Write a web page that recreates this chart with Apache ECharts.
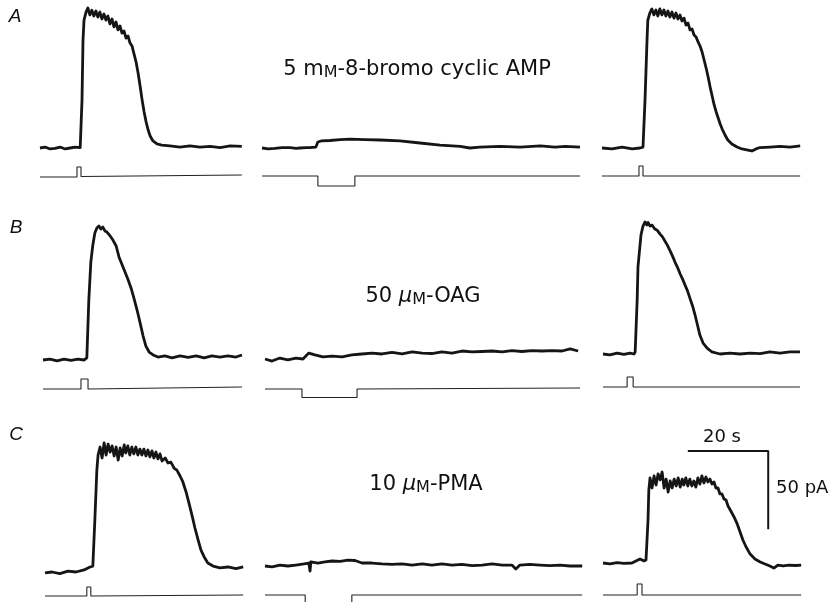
<!DOCTYPE html>
<html>
<head>
<meta charset="utf-8">
<script src="https://cdn.jsdelivr.net/npm/echarts/dist/echarts.min.js"></script>
<style>
html,body{margin:0;padding:0;background:#fff;}
#chart{width:836px;height:602px;}
</style>
</head>
<body>
<div id="chart"></div>
<script>
// ---------- DATA (time in s, current in pA, stimulus in arbitrary units) ----------
const traceA1 = [[0,0],[1.25,0.6],[2.5,-0.6],[3.75,-0.3],[5,0.6],[6.25,-0.6],[7.5,0],[8.75,0.6],[10,0.3],[10.2,0.6],[10.45,30.6],[10.7,69],[10.95,81.7],[11.45,86.8],[11.9,89.4],[12.4,85],[12.9,88],[13.4,84.3],[13.9,87.5],[14.4,83.6],[14.9,86.8],[15.4,82.4],[15.9,85.6],[16.4,81.7],[16.9,84.3],[17.4,79.2],[17.9,82.4],[18.4,77.3],[18.9,80.5],[19.4,75.4],[19.9,77.9],[20.4,73.4],[20.9,74.7],[21.4,70.2],[21.9,71.5],[22.4,67],[22.9,65.1],[23.4,60],[23.9,54.9],[24.4,47.9],[24.9,39.6],[25.4,30.7],[25.9,23],[26.4,16.6],[26.9,11.5],[27.4,7.7],[28.1,4.5],[29.1,2.6],[30.3,1.9],[32.3,1.3],[34.8,0.6],[37.3,1.3],[39.8,0.6],[42.3,1],[44.8,0.3],[47.3,1.3],[50.2,1]];
const stimA1 = [[0,0],[9.2,0],[9.2,1],[10.2,1],[10.2,0.05],[50.2,0.2]];

const traceA2 = [[0,0],[1.6,-0.6],[3.2,-0.3],[5,0.3],[7,0.3],[8.5,-0.3],[9.45,0],[11,0.3],[11.9,0.3],[13.4,0.6],[13.9,3.8],[14.7,4.5],[16.9,4.8],[19.4,5.4],[21.9,5.7],[25.6,5.4],[29.4,5.1],[34.3,4.5],[39.3,3.2],[44.3,1.9],[49.3,1],[51.7,0],[54.2,0.6],[59.2,1],[64.2,0.6],[69.2,1.3],[72.9,0.6],[75.4,1],[79.1,0.6]];
const stimA2 = [[0,0],[13.9,0],[13.9,-1],[23.1,-1],[23.1,0],[79.1,0]];

const traceA3 = [[0,0],[2.5,-0.6],[5,0.6],[7.5,-0.6],[9.45,0],[10.2,0.6],[10.7,30.6],[11.2,69],[11.4,81.7],[11.9,86.2],[12.4,88.8],[12.9,85],[13.4,88.1],[13.9,84.3],[14.4,88.8],[14.9,85],[15.4,88.1],[15.9,84.3],[16.4,87.5],[16.9,83.6],[17.4,86.8],[17.9,82.9],[18.4,86.2],[18.9,82.4],[19.4,84.9],[19.9,81.1],[20.4,82.9],[20.9,78.5],[21.4,79.8],[21.9,75.4],[22.4,76],[22.9,72.2],[23.4,70.9],[23.9,67.7],[24.4,65.1],[24.9,61.3],[25.4,56.2],[25.9,51.1],[26.4,45.3],[26.9,38.9],[27.4,33.2],[27.9,27.5],[28.4,23],[28.9,19.2],[29.4,15.3],[29.9,12.1],[30.6,8.3],[31.3,5.1],[32.3,2.6],[33.6,0.6],[34.8,-0.6],[36.3,-1.3],[37.3,-1.9],[38.3,-0.6],[39.3,0.3],[41.8,0.6],[44.3,1],[46.8,0.6],[49.3,1.3]];
const stimA3 = [[0,0],[9.2,0],[9.2,1],[10.2,1],[10.2,0],[49.3,0]];

const traceB1 = [[0,0],[1.75,0.6],[3.5,-0.6],[5.2,0.6],[7,-0.3],[8.7,0.6],[10.2,0],[10.9,1.3],[11.4,38.3],[11.9,62.6],[12.4,73.5],[12.9,81.1],[13.4,84.3],[13.9,85.6],[14.4,83.6],[14.9,84.9],[15.4,82.4],[15.9,81.7],[16.7,79.2],[17.4,76.6],[18.2,72.8],[18.9,65.8],[19.7,60.7],[20.4,56.2],[21.1,51.7],[21.9,46],[22.6,39.6],[23.4,31.9],[24.1,24.3],[24.9,15.3],[25.6,8.9],[26.4,5.1],[27.4,3.2],[28.6,1.9],[30.3,2.6],[32.1,1.3],[34.1,2.6],[36.1,1.6],[38.1,2.6],[40.1,1.3],[42,2.6],[44,1.9],[46,2.6],[48,1.9],[49.5,3.2]];
const stimB1 = [[0,0],[9.45,0],[9.45,1],[11.2,1],[11.2,0],[49.5,0.2]];

const traceB2 = [[0,0],[1.75,-1.3],[3.7,0.6],[5.7,-0.6],[7.7,0.6],[9.45,0],[10.4,2.6],[10.9,3.8],[12.4,2.6],[14.4,1.3],[16.7,1.9],[19.2,1.3],[21.6,2.6],[24.1,3.2],[26.6,3.8],[29.1,3.2],[31.6,4.2],[34.1,3.2],[36.6,4.5],[39.1,3.8],[41.5,3.5],[44,4.5],[46.5,3.8],[49,5.1],[51.5,4.5],[54,4.8],[56.5,5.1],[59,4.5],[61.4,5.4],[63.9,4.8],[66.4,5.4],[68.9,5.1],[71.4,5.4],[73.9,5.1],[75.9,6.4],[77.9,5.1]];
const stimB2 = [[0,0],[9.2,0],[9.2,-0.85],[22.9,-0.85],[22.9,0],[78.4,0.1]];

const traceB3 = [[0,0],[1.75,-0.6],[3.5,0.6],[5.2,-0.3],[6.7,0.6],[7.7,0],[8,1.3],[8.5,34.5],[8.7,55.6],[9.45,76],[9.95,81.7],[10.45,84.3],[10.9,82.4],[11.2,84],[11.7,81.7],[12.2,82.3],[12.9,79.8],[13.5,79],[14.2,76.6],[14.8,74.8],[15.4,72.2],[16,69.5],[16.7,65.8],[17.3,62.5],[17.9,58.7],[18.5,55.5],[19.2,51.1],[19.8,47.8],[20.4,44.1],[21,40.5],[21.6,35.8],[22.3,30.5],[22.9,24.9],[23.5,18.5],[24.1,12.1],[24.9,7],[25.9,3.8],[27.1,1.3],[29.1,0],[31.6,0.6],[34.1,0],[36.6,0.6],[39.1,0.3],[41.5,1.3],[44,0.6],[46.5,1.3],[49,1.3]];
const stimB3 = [[0,0],[6,0],[6,1],[7.5,1],[7.5,0],[49,0]];

const traceC1 = [[0,-0.6],[1.75,0],[3.7,-1],[5.7,0.6],[7.7,0],[9.7,1.3],[11.2,3.2],[11.9,3.8],[12.4,33.2],[12.9,65.1],[13.2,74.7],[13.7,79.8],[14.2,72.8],[14.7,82.4],[15.2,74.7],[15.7,81.7],[16.2,76.6],[16.7,80.5],[17.2,74.1],[17.7,79.8],[18.2,71.5],[18.7,79.2],[19.2,74.1],[19.7,81.1],[20.1,76],[20.6,80.5],[21.1,74.7],[21.6,79.8],[22.1,75.4],[22.6,79.8],[23.1,74.7],[23.6,78.5],[24.1,74.7],[24.6,78.5],[25.1,74.1],[25.6,77.9],[26.1,73.5],[26.6,77.3],[27.1,72.8],[27.6,76.6],[28.1,72.2],[28.6,75.4],[29.1,70.9],[29.9,72.8],[30.6,69.6],[31.3,70.2],[32.1,66.4],[32.8,65.1],[33.6,61.3],[34.3,57.5],[35.1,51.1],[35.8,44.1],[36.6,35.8],[37.3,28.1],[38.1,20.4],[38.8,14],[39.6,9.6],[40.5,5.7],[41.8,3.8],[43.5,2.6],[45.5,3.2],[47.5,2.2],[49.3,3.2]];
const stimC1 = [[0,0],[10.4,0],[10.4,0.9],[11.4,0.9],[11.4,0],[49.3,0.1]];

const traceC2 = [[0,0],[1.75,-0.6],[3.7,0.6],[5.7,0],[7.7,0.6],[9.7,1.3],[10.9,1.9],[11.2,-3.2],[11.4,2.6],[13.2,1.9],[14.9,2.6],[16.7,3.2],[18.7,2.9],[20.6,3.8],[22.4,3.5],[24.1,1.9],[26.6,1.9],[29.1,1.3],[31.6,1],[34.1,1.3],[36.6,0.6],[39.1,1.3],[41.5,0.6],[44,1.3],[46.5,0.6],[49,1],[51.5,0.3],[54,0.6],[56.5,1.3],[59,0.6],[61.4,0.6],[62.4,-1.9],[63.4,0.6],[65.9,1],[68.4,0.6],[70.9,0.3],[73.4,0.6],[75.9,0],[78.9,0]];
const stimC2 = [[0,0],[10,0],[10,-2],[21.6,-2],[21.6,0],[78.9,0]];

const traceC3 = [[0,0],[1.75,-0.6],[3.5,0.3],[5.2,-0.3],[7.2,0],[8.2,1.3],[9.2,2.6],[10.2,1.3],[10.7,1.9],[11.2,27.5],[11.4,46.6],[11.7,54.3],[12.2,47.9],[12.7,55.6],[13.2,49.8],[13.7,56.9],[14.2,53.1],[14.7,58.1],[15.2,47.9],[15.7,53.6],[16.2,45.3],[16.7,52.4],[17.2,47.9],[17.7,53.6],[18.2,49.2],[18.7,54.3],[19.2,48.5],[19.7,53.6],[20.1,49.8],[20.6,54.3],[21.1,49.2],[21.6,53.6],[22.1,49.2],[22.6,52.4],[23.1,48.5],[23.6,54.3],[24.1,50.4],[24.6,55.6],[25.1,51.1],[25.6,54.9],[26.1,51.7],[26.6,53.6],[27.1,50.4],[27.6,51.7],[28.1,47.9],[28.6,47.9],[29.1,44.1],[29.6,44.1],[30.1,40.9],[30.6,40.2],[31.1,36.4],[31.8,33.2],[32.6,29.4],[33.3,25.5],[34.1,19.8],[34.8,14.7],[35.6,10.2],[36.6,5.7],[37.8,2.6],[39.1,0.6],[40.3,-0.6],[41.5,-1.9],[42.5,-3.2],[43.5,-1.3],[44.8,-1.9],[46.3,-1.3],[47.8,-1.6],[49.3,-1.3]];
const stimC3 = [[0,0],[8.5,0],[8.5,1.1],[9.7,1.1],[9.7,0],[49.3,0]];

const scaleTime = 20;     // s
const scaleCurrent = 50;  // pA

const rowLabels = ['A', 'B', 'C'];
const drugLabels = ['5 m{sc|M}-8-bromo cyclic AMP', '50 {mu|μ}{sc|M}-OAG', '10 {mu|μ}{sc|M}-PMA'];

// ---------- LAYOUT (pixels) ----------
const PX_PER_S = 4.02, PX_PER_PA = 1.566, PX_PER_STIM = 10;
const I_MIN = -15, I_MAX = 94, S_MIN = -0.5, S_MAX = 1.5;
const panels = [
  {x0:40,  x1:242, yBase:148, stimBase:177, trace:traceA1, stim:stimA1},
  {x0:262, x1:580, yBase:148, stimBase:176, trace:traceA2, stim:stimA2},
  {x0:602, x1:800, yBase:148, stimBase:176, trace:traceA3, stim:stimA3},
  {x0:43,  x1:242, yBase:360, stimBase:389, trace:traceB1, stim:stimB1},
  {x0:265, x1:578, yBase:359, stimBase:389, trace:traceB2, stim:stimB2},
  {x0:603, x1:800, yBase:354, stimBase:387, trace:traceB3, stim:stimB3},
  {x0:45,  x1:243, yBase:572, stimBase:596, trace:traceC1, stim:stimC1},
  {x0:265, x1:582, yBase:566, stimBase:595, trace:traceC2, stim:stimC2},
  {x0:603, x1:801, yBase:563, stimBase:595, trace:traceC3, stim:stimC3}
];
const scaleAnchor = {panel:8, t:21.1, i:71.5};

const grid = [], xAxis = [], yAxis = [], series = [];
panels.forEach((p, k) => {
  const w = p.x1 - p.x0;
  const gi = grid.length;
  grid.push({left:p.x0, width:w, top:p.yBase - I_MAX*PX_PER_PA, height:(I_MAX - I_MIN)*PX_PER_PA, outerBoundsMode:'none', containLabel:false});
  xAxis.push({gridIndex:gi, type:'value', min:0, max:w/PX_PER_S, show:false});
  yAxis.push({gridIndex:gi, type:'value', min:I_MIN, max:I_MAX, show:false});
  series.push({type:'line', xAxisIndex:gi, yAxisIndex:gi, data:p.trace, symbol:'none', silent:true,
    lineStyle:{color:'#151515', width:2.8, join:'round'}});
  if (k === scaleAnchor.panel) {
    const a = scaleAnchor;
    series.push({type:'line', xAxisIndex:gi, yAxisIndex:gi, symbol:'none', silent:true, clip:false,
      data:[[a.t, a.i],[a.t + scaleTime, a.i],[a.t + scaleTime, a.i - scaleCurrent]],
      lineStyle:{color:'#151515', width:2}});
  }
  const si = grid.length;
  grid.push({left:p.x0, width:w, top:p.stimBase - S_MAX*PX_PER_STIM, height:(S_MAX - S_MIN)*PX_PER_STIM, outerBoundsMode:'none', containLabel:false});
  xAxis.push({gridIndex:si, type:'value', min:0, max:w/PX_PER_S, show:false});
  yAxis.push({gridIndex:si, type:'value', min:S_MIN, max:S_MAX, show:false});
  series.push({type:'line', xAxisIndex:si, yAxisIndex:si, data:p.stim, symbol:'none', silent:true, clip:false,
    lineStyle:{color:'#222', width:1.1}});
});

const FONT = 'DejaVu Sans';
const richDefs = {
  sc:{fontSize:16, fontFamily:FONT, fill:'#111', verticalAlign:'bottom'},
  mu:{fontSize:21, fontFamily:FONT, fontStyle:'italic', fill:'#111'}
};
const letterPos = [[15,17],[16,228],[16,435]];
const drugPos = [[417,70],[423,297],[426,485]];
const graphic = [];
rowLabels.forEach((t, i) => graphic.push({type:'text', x:letterPos[i][0], y:letterPos[i][1],
  style:{text:t, fontSize:19, fontFamily:'Liberation Sans', fontStyle:'italic', fill:'#111', align:'center', verticalAlign:'middle'}}));
drugLabels.forEach((t, i) => graphic.push({type:'text', x:drugPos[i][0], y:drugPos[i][1],
  style:{text:t, fontSize:21, fontFamily:FONT, fill:'#111', align:'center', verticalAlign:'middle', rich:richDefs}}));
graphic.push({type:'text', x:722, y:437, style:{text:scaleTime + ' s', fontSize:18, fontFamily:FONT, fill:'#111', align:'center', verticalAlign:'middle'}});
graphic.push({type:'text', x:776, y:488, style:{text:scaleCurrent + ' pA', fontSize:18, fontFamily:FONT, fill:'#111', align:'left', verticalAlign:'middle'}});

const chart = echarts.init(document.getElementById('chart'), null, {renderer:'canvas'});
chart.setOption({
  animation:false,
  backgroundColor:'#fff',
  grid, xAxis, yAxis, series, graphic
});
</script>
</body>
</html>
